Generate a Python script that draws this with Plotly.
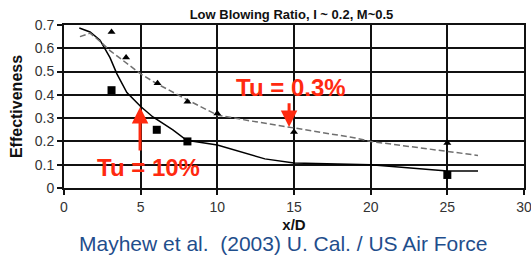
import plotly.graph_objects as go

# Tu = 10% (solid line correlation)
line10_x = [1, 1.7, 2.35, 3, 3.45, 4.1, 5, 5.8, 7.1, 8, 10, 13.1, 15, 20, 25, 27]
line10_y = [0.687, 0.67, 0.635, 0.56, 0.49, 0.41, 0.35, 0.305, 0.25, 0.205, 0.185, 0.125, 0.107, 0.10, 0.073, 0.073]
# Tu = 0.3% (dashed line correlation)
line03_x = [1.04, 1.7, 2.35, 3, 5, 6, 8, 10, 12, 15, 19, 20, 25, 27]
line03_y = [0.65, 0.665, 0.63, 0.59, 0.49, 0.45, 0.38, 0.313, 0.29, 0.258, 0.215, 0.2, 0.155, 0.14]
# Data points
tri_x = [3.1, 4.05, 6.1, 8.05, 10, 15, 25]
tri_y = [0.67, 0.56, 0.45, 0.37, 0.32, 0.24, 0.193]
sq_x = [3.1, 6.05, 8.05, 25]
sq_y = [0.42, 0.25, 0.2, 0.056]

x_ticks = [0, 5, 10, 15, 20, 25, 30]
y_ticks = [0, 0.1, 0.2, 0.3, 0.4, 0.5, 0.6, 0.7]
y_ticktext = ["0", "0.1", "0.2", "0.3", "0.4", "0.5", "0.6", "0.7"]

FONT = "Liberation Sans, Arial, sans-serif"
RED = "#FF2A10"

fig = go.Figure()
fig.add_trace(go.Scatter(x=line10_x, y=line10_y, mode="lines",
                         line=dict(color="black", width=1.5), showlegend=False))
fig.add_trace(go.Scatter(x=line03_x, y=line03_y, mode="lines",
                         line=dict(color="#707070", width=1.5, dash="6px,3px"), showlegend=False))
fig.add_trace(go.Scatter(x=tri_x, y=tri_y, mode="markers",
                         marker=dict(symbol="triangle-up", color="black", size=7), showlegend=False))
fig.add_trace(go.Scatter(x=sq_x, y=sq_y, mode="markers",
                         marker=dict(symbol="square", color="black", size=8), showlegend=False))

axis_common = dict(showgrid=True, gridcolor="#111111", gridwidth=2, showline=True,
                   linecolor="#111111", linewidth=2, mirror=True, ticks="outside",
                   ticklen=5, tickcolor="#111111", tickwidth=1.5, zeroline=False,
                   ticklabeloverflow="allow",
                   tickfont=dict(family=FONT, size=14, color="#333333"))

fig.update_layout(
    width=531, height=272,
    margin=dict(l=64, r=7, t=25, b=84, autoexpand=False),
    paper_bgcolor="white", plot_bgcolor="white",
    title=dict(text="<b>Low Blowing Ratio, I ~ 0.2, M~0.5</b>", xref="container", x=291.5 / 531,
               xanchor="center", yref="container", y=1 - 14 / 272, yanchor="middle",
               font=dict(family=FONT, size=13, color="#111111")),
    xaxis=dict(range=[0, 30], tickmode="array", tickvals=x_ticks, ticktext=[str(v) for v in x_ticks],
               title=dict(text="<b>x/D</b>", font=dict(family=FONT, size=15, color="#111111"), standoff=6),
               **axis_common),
    yaxis=dict(range=[0, 0.7], tickmode="array", tickvals=y_ticks, ticktext=y_ticktext,
               title=dict(text="<b>Effectiveness</b>", font=dict(family=FONT, size=16, color="#111111"), standoff=8),
               **axis_common),
)

# Red arrows
fig.add_annotation(x=4.96, y=0.348, ax=4.96, ay=0.155, xref="x", yref="y", axref="x", ayref="y",
                   showarrow=True, arrowhead=2, arrowsize=1.1, arrowwidth=3, arrowcolor=RED, text="")
fig.add_annotation(x=14.68, y=0.262, ax=14.68, ay=0.37, xref="x", yref="y", axref="x", ayref="y",
                   showarrow=True, arrowhead=2, arrowsize=1.1, arrowwidth=3, arrowcolor=RED, text="")
# Red labels
fig.add_annotation(x=5.54, y=0.086, xref="x", yref="y", showarrow=False,
                   text="<b>Tu = 10%</b>", font=dict(family=FONT, size=24, color=RED))
fig.add_annotation(x=14.8, y=0.433, xref="x", yref="y", showarrow=False,
                   text="<b>Tu = 0.3%</b>", font=dict(family=FONT, size=24, color=RED))
# Caption
fig.add_annotation(xref="paper", yref="paper", x=(282.5 - 64) / 460, y=(188 - 257) / 163,
                   showarrow=False, text="Mayhew et al.  (2003) U. Cal. / US Air Force",
                   font=dict(family=FONT, size=21, color="#1F4E8C"))

fig.write_html("out.html", config={"displayModeBar": False},
               post_script="document.body.style.margin='0';")
